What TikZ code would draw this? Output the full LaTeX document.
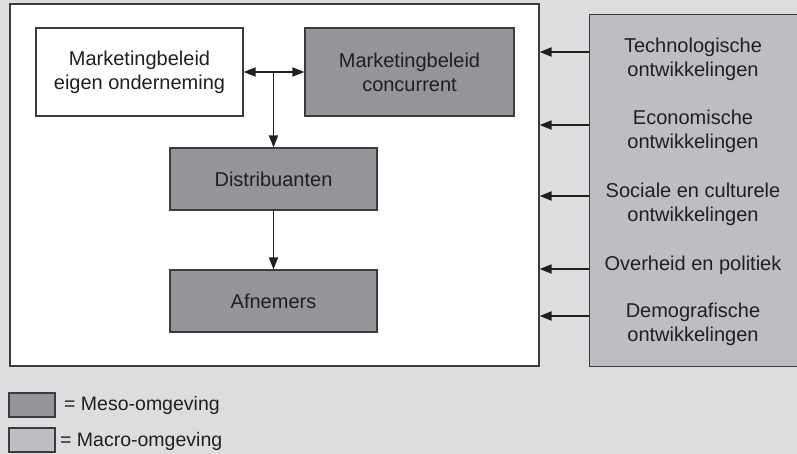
\documentclass[tikz,border=0pt]{standalone}
\usepackage{fontspec}
\setmainfont{Liberation Sans}
\usetikzlibrary{arrows.meta}
\definecolor{bgc}{HTML}{DCDDDF}
\definecolor{meso}{HTML}{939598}
\definecolor{macro}{HTML}{BDBEC2}
\definecolor{edge}{HTML}{3C3C3E}
\definecolor{ink}{HTML}{231F20}
\tikzset{
  box/.style={draw=edge, line width=1.1pt, inner sep=0pt, text=ink, align=center,
    font=\fontsize{20}{24}\selectfont},
  mesobox/.style={box, fill=meso, minimum width=207pt, minimum height=62pt},
  label/.style={text=ink, align=center, inner sep=0pt, font=\fontsize{20}{24}\selectfont},
  flow/.style={draw=ink, line width=1.8pt, -{Triangle[length=12pt,width=9pt]}},
  legtext/.style={text=ink, anchor=west, inner sep=0pt, font=\fontsize{19.5}{22}\selectfont}
}
\begin{document}
\begin{tikzpicture}[x=1pt,y=-1pt]
% canvas
\fill[bgc] (0,0) rectangle (797,454);
\useasboundingbox (0,0) rectangle (797,454);

% outer frames
\node[box, fill=white, minimum width=529pt, minimum height=362pt] (micro) at (274.5,185) {};
\node[box, fill=macro, minimum width=212pt, minimum height=352pt, anchor=north west] (macro) at (589,14) {};

% organisation boxes
\node[box, fill=white, minimum width=207pt, minimum height=88pt] (eigen) at (139.5,72) {Marketingbeleid\\eigen onderneming};
\node[box, fill=meso, minimum width=209pt, minimum height=88pt] (conc) at (409.5,72) {Marketingbeleid\\concurrent};
\node[mesobox] (distr) at (273.5,179) {Distribuanten};
\node[mesobox] (afn) at (273.5,301) {Afnemers};

% macro factors
\node[label] (tech) at (693,59) {Technologische\\ontwikkelingen};
\node[label] (econ) at (693,131) {Economische\\ontwikkelingen};
\node[label] (soc) at (693,204) {Sociale en culturele\\ontwikkelingen};
\node[label] (over) at (693,265) {Overheid en politiek};
\node[label] (demo) at (693,324) {Demografische\\ontwikkelingen};

% arrows between the micro boxes
\coordinate (split) at (distr.north |- eigen.east);
\draw[flow, {Triangle[length=12pt,width=9pt]}-{Triangle[length=12pt,width=9pt]}] (eigen.east) -- (conc.west);
\draw[flow] (split) -- (distr.north);
\draw[flow] (distr.south) -- (afn.north);

% influence of the macro environment
\coordinate (m1) at (macro.west |- 0,52);
\coordinate (m2) at (macro.west |- 0,125);
\coordinate (m3) at (macro.west |- 0,196);
\coordinate (m4) at (macro.west |- 0,269);
\coordinate (m5) at (macro.west |- 0,316);
\foreach \m in {m1,m2,m3,m4,m5}
  \draw[flow] (\m) -- (micro.east |- \m);

% legend
\node[box, fill=meso, minimum width=46pt, minimum height=24pt] (kmeso) at (32,405) {};
\node[box, fill=macro, minimum width=46pt, minimum height=24pt] (kmacro) at (32,440) {};
\node[legtext] (tmeso) at (64,405) {= Meso-omgeving};
\node[legtext] (tmacro) at (60,441) {= Macro-omgeving};
\end{tikzpicture}
\end{document}
